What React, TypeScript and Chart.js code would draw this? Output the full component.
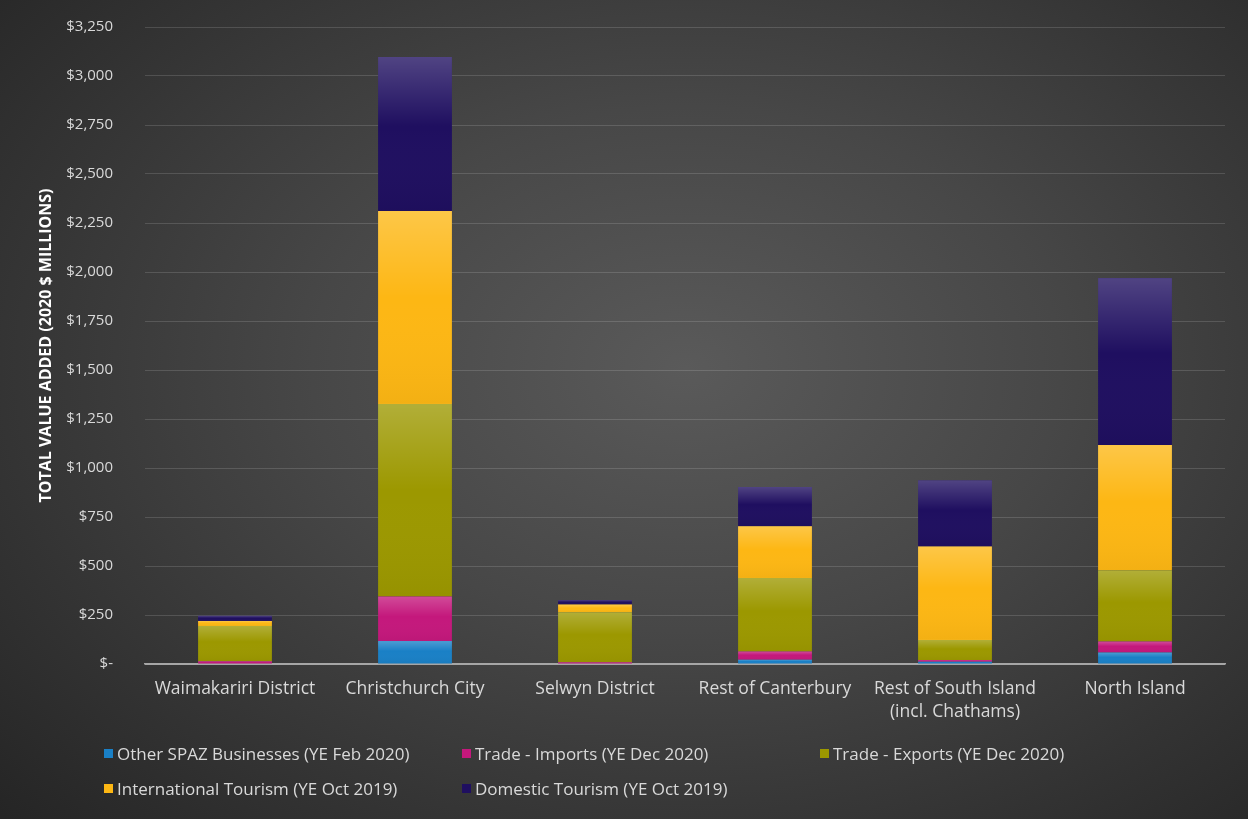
import React, { useEffect, useRef } from "react";
import { Chart, registerables } from "chart.js";

Chart.register(...registerables);

const categories: (string | string[])[] = [
  "Waimakariri District",
  "Christchurch City",
  "Selwyn District",
  "Rest of Canterbury",
  ["Rest of South Island", "(incl. Chathams)"],
  "North Island",
];

const otherSpaz = [2, 117, 2, 22, 12, 59];
const tradeImports = [12, 227, 7, 42, 8, 56];
const tradeExports = [180, 983, 255, 375, 103, 363];
const intlTourism = [26, 984, 39, 264, 477, 639];
const domTourism = [26, 786, 23, 200, 337, 852];

const seriesNames = [
  "Other SPAZ Businesses (YE Feb 2020)",
  "Trade - Imports (YE Dec 2020)",
  "Trade - Exports (YE Dec 2020)",
  "International Tourism (YE Oct 2019)",
  "Domestic Tourism (YE Oct 2019)",
];
const seriesColors = ["#1a80c6", "#c4187c", "#9c9800", "#fdb714", "#1f0f60"];

const yMax = 3250;
const yStep = 250;

const FONT = "'Open Sans', Lato, sans-serif";
const TEXT = "#d9d9d9";

const gloss = {
  id: "gloss",
  afterDatasetsDraw(chart: any) {
    const ctx = chart.ctx;
    chart.data.datasets.forEach((_: any, i: number) => {
      const meta = chart.getDatasetMeta(i);
      meta.data.forEach((el: any) => {
        const p = el.getProps(["x", "y", "base", "width"], true);
        const top = Math.min(p.y, p.base);
        const bot = Math.max(p.y, p.base);
        const h = bot - top;
        if (h < 1) return;
        const g = ctx.createLinearGradient(0, top, 0, bot);
        g.addColorStop(0, "rgba(255,255,255,0.22)");
        g.addColorStop(0.45, "rgba(255,255,255,0.0)");
        g.addColorStop(1, "rgba(0,0,0,0.04)");
        ctx.save();
        ctx.fillStyle = g;
        ctx.fillRect(p.x - p.width / 2, top, p.width, h);
        ctx.restore();
      });
    });
  },
};

export default function App() {
  const ref = useRef<HTMLCanvasElement>(null);

  useEffect(() => {
    document.body.style.margin = "0";
    const data = [otherSpaz, tradeImports, tradeExports, intlTourism, domTourism];
    const chart = new Chart(ref.current as HTMLCanvasElement, {
      type: "bar",
      data: {
        labels: categories as any,
        datasets: data.map((d, i) => ({
          label: seriesNames[i],
          data: d,
          backgroundColor: seriesColors[i],
          borderWidth: 0,
          barPercentage: 1,
          categoryPercentage: 0.41,
        })),
      },
      plugins: [gloss],
      options: {
        animation: false,
        responsive: false,
        maintainAspectRatio: false,
        layout: { padding: { top: 27, left: 37, right: 23, bottom: 95 } },
        plugins: {
          legend: { display: false },
          tooltip: { enabled: false },
        },
        scales: {
          x: {
            stacked: true,
            afterFit: (s: any) => {
              s.height = 60;
            },
            grid: { display: false, drawTicks: false },
            border: { display: true, color: "#a6a6a6", width: 1.5 },
            ticks: {
              color: TEXT,
              font: { family: FONT, size: 17.5, lineHeight: 1.32 },
              padding: 13,
              maxRotation: 0,
              autoSkip: false,
            },
          },
          y: {
            stacked: true,
            min: 0,
            max: yMax,
            afterFit: (s: any) => {
              s.width = 108;
              s.paddingTop = 0;
              s.paddingBottom = 0;
            },
            border: { display: false },
            grid: {
              drawTicks: false,
              color: (c: any) => (c.tick && c.tick.value === 0 ? "#a6a6a6" : "rgba(255,255,255,0.14)"),
              lineWidth: 1,
            },
            ticks: {
              stepSize: yStep,
              color: TEXT,
              padding: 32,
              font: { family: FONT, size: 15 },
              callback: (v: any) => (Number(v) === 0 ? "$-" : "$" + Number(v).toLocaleString("en-US")),
            },
            title: {
              display: true,
              text: "TOTAL VALUE ADDED (2020 $ MILLIONS)",
              color: "#ffffff",
              font: { family: FONT, size: 16, weight: "bold" },
              padding: { top: 0, bottom: 0 },
            },
          },
        },
      },
    });
    return () => chart.destroy();
  }, []);

  const legendPos = [
    { left: 104, top: 742 },
    { left: 462, top: 742 },
    { left: 820, top: 742 },
    { left: 104, top: 777 },
    { left: 462, top: 777 },
  ];

  return (
    <div
      style={{
        position: "relative",
        width: 1248,
        height: 819,
        overflow: "hidden",
        background:
          "radial-gradient(ellipse 75% 80% at 55% 45%, #5a5a5a 0%, #474747 40%, #333333 75%, #252525 100%)",
        fontFamily: FONT,
      }}
    >
      <canvas ref={ref} width={1248} height={819} style={{ position: "absolute", left: 0, top: 0 }} />
      {seriesNames.map((name, i) => (
        <div
          key={name}
          style={{
            position: "absolute",
            left: legendPos[i].left,
            top: legendPos[i].top,
            display: "flex",
            alignItems: "center",
            color: TEXT,
            fontSize: 17,
            whiteSpace: "nowrap",
          }}
        >
          <span
            style={{
              display: "inline-block",
              width: 9,
              height: 9,
              background: seriesColors[i],
              marginRight: 4,
            }}
          />
          {name}
        </div>
      ))}
    </div>
  );
}
